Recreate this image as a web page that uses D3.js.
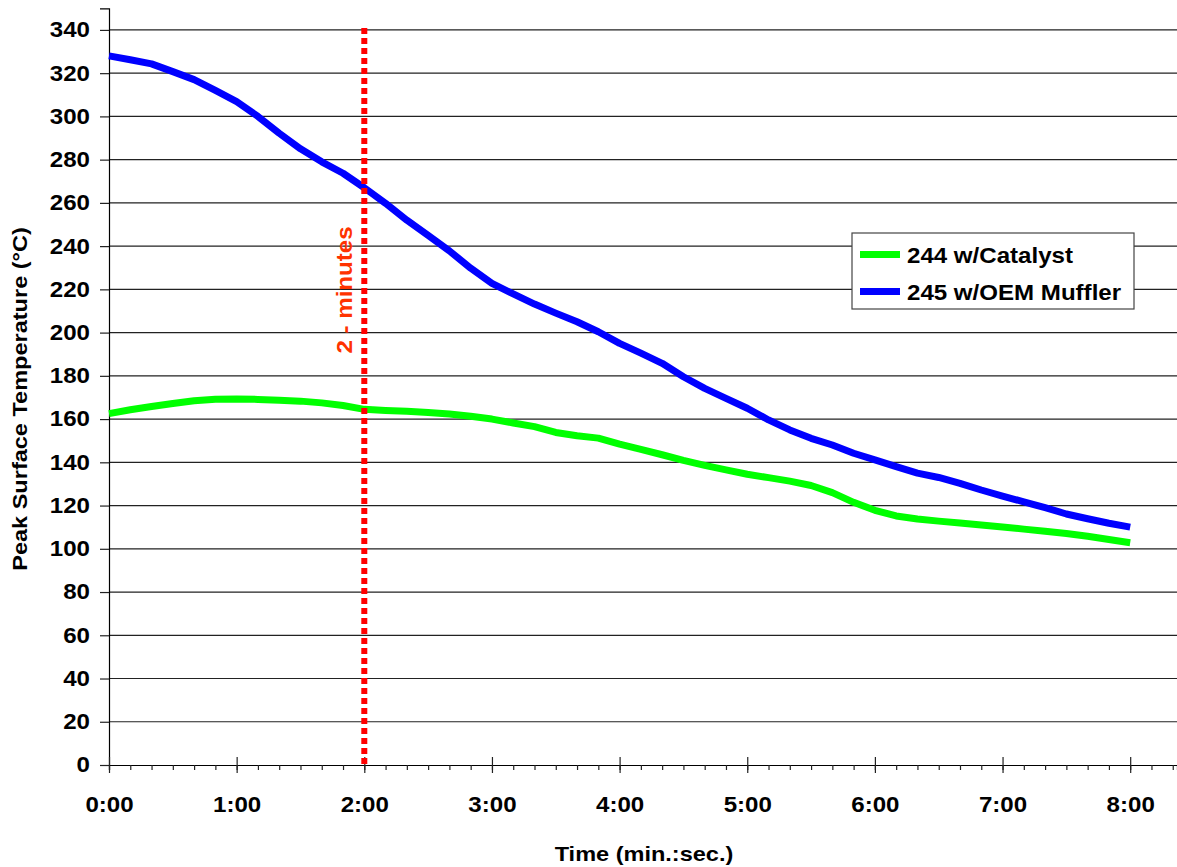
<!DOCTYPE html>
<html>
<head>
<meta charset="utf-8">
<script src="https://cdn.jsdelivr.net/npm/d3@7"></script>
<style>
  html, body { margin: 0; padding: 0; background: #fff; }
  svg { display: block; font-family: "Liberation Sans", Arial, sans-serif; font-weight: bold; }
</style>
</head>
<body>
<svg id="chart" width="1177" height="867"></svg>
<script>
// Sample times, seconds from start (every 10 s)
const timeSec = d3.range(0, 481, 10);

// Peak surface temperature, °C
const catalyst = [
  162.5, 164.3, 165.8, 167.2, 168.5, 169.2, 169.3, 169.1, 168.7, 168.3,
  167.5, 166.3, 164.5, 164.0, 163.6, 163.0, 162.3, 161.3, 160.0, 158.2,
  156.5, 153.8, 152.3, 151.2, 148.4, 146.0, 143.5, 140.9, 138.6, 136.5,
  134.5, 132.9, 131.3, 129.3, 126.0, 121.5, 117.8, 115.2, 113.8, 112.8,
  111.9, 111.0, 110.1, 109.1, 108.1, 107.1, 105.8, 104.3, 102.8
];
const oemMuffler = [
  328.0, 326.2, 324.3, 320.7, 317.0, 312.0, 306.8, 300.0, 292.2, 285.0,
  279.0, 273.7, 267.0, 259.8, 252.0, 245.0, 237.8, 229.8, 222.8, 217.9,
  213.2, 209.0, 205.0, 200.4, 195.0, 190.5, 185.8, 179.6, 174.2, 169.6,
  165.0, 159.6, 155.0, 151.1, 148.0, 144.2, 141.1, 138.0, 135.0, 133.0,
  130.3, 127.2, 124.4, 121.7, 119.0, 116.1, 113.9, 111.8, 110.0
];

const seriesNames = ["244 w/Catalyst", "245 w/OEM Muffler"];
const seriesColors = ["#00ff00", "#0000ff"];

const yTicks = d3.range(0, 341, 20);
const xMajorTicks = d3.range(0, 481, 60);
const xMinorTicks = d3.range(0, 501, 10);
const markerTime = 120;
const markerLabel = "2 - minutes";

const FONT = "Liberation Sans, Arial, sans-serif";
const svg = d3.select("#chart");

const x = d3.scaleLinear().domain([0, 502]).range([109, 1177]);
const y = d3.scaleLinear().domain([0, 350]).range([765, 8.3]);

const fmtTime = s => `${Math.floor(s / 60)}:${String(s % 60).padStart(2, "0")}`;

// horizontal grid lines
svg.append("g")
  .selectAll("line")
  .data(yTicks.filter(v => v > 0))
  .join("line")
  .attr("x1", x(0)).attr("x2", 1177)
  .attr("y1", d => y(d)).attr("y2", d => y(d))
  .attr("stroke", "#222").attr("stroke-width", 1.2);

// y axis
const yAxis = d3.axisLeft(y).tickValues(yTicks).tickSize(9).tickPadding(10).tickFormat(d3.format("d"));
const gy = svg.append("g").attr("transform", `translate(${x(0)},0)`).call(yAxis);
gy.select(".domain").attr("stroke", "#000").attr("stroke-width", 1.2);
gy.selectAll(".tick line").attr("stroke", "#222").attr("stroke-width", 1.2);
gy.selectAll(".tick text").attr("font-size", 21.5).attr("font-weight", "bold")
  .attr("font-family", FONT).attr("fill", "#000").classed("wide", true);

// x axis: minor ticks every 10 s, major every minute
const gxMinor = svg.append("g").attr("transform", `translate(0,${y(0)})`)
  .call(d3.axisBottom(x).tickValues(xMinorTicks).tickSize(5).tickFormat(""));
gxMinor.select(".domain").attr("stroke", "#000").attr("stroke-width", 1.2);
gxMinor.selectAll(".tick line").attr("stroke", "#222").attr("stroke-width", 1.2);

const gxMajor = svg.append("g").attr("transform", `translate(0,${y(0)})`)
  .call(d3.axisBottom(x).tickValues(xMajorTicks).tickSize(8).tickPadding(24).tickFormat(fmtTime));
gxMajor.select(".domain").remove();
gxMajor.selectAll(".tick line").attr("y1", -8).attr("stroke", "#222").attr("stroke-width", 1.2);
gxMajor.selectAll(".tick text").attr("font-size", 21.5).attr("font-weight", "bold")
  .attr("font-family", FONT).attr("fill", "#000").classed("wide", true);

// data lines
const line = d3.line().x((d, i) => x(timeSec[i])).y(d => y(d));
[catalyst, oemMuffler].forEach((vals, k) => {
  svg.append("path")
    .datum(vals)
    .attr("d", line)
    .attr("fill", "none")
    .attr("stroke", seriesColors[k])
    .attr("stroke-width", 7)
    .attr("stroke-linejoin", "round");
});

// two-minute marker
svg.append("line")
  .attr("x1", x(markerTime)).attr("x2", x(markerTime))
  .attr("y1", y(340) - 2).attr("y2", y(0))
  .attr("stroke", "#ff0000").attr("stroke-width", 6)
  .attr("stroke-dasharray", "6,4");

svg.append("text")
  .attr("class", "wide")
  .attr("transform", `translate(${x(markerTime) - 12},290) rotate(-90)`)
  .attr("text-anchor", "middle")
  .attr("font-size", 21.5)
  .attr("fill", "#ff3300")
  .text(markerLabel);

// legend
const legend = svg.append("g");
legend.append("rect")
  .attr("x", 852).attr("y", 233).attr("width", 282).attr("height", 76)
  .attr("fill", "#fff").attr("stroke", "#444").attr("stroke-width", 1.2);
seriesNames.forEach((name, k) => {
  const cy = 254.5 + k * 37;
  legend.append("line")
    .attr("x1", 860).attr("x2", 900).attr("y1", cy).attr("y2", cy)
    .attr("stroke", seriesColors[k]).attr("stroke-width", 7);
  legend.append("text")
    .attr("class", "wide")
    .attr("x", 907).attr("y", cy + 8)
    .attr("font-size", 21.5).attr("fill", "#000")
    .text(name);
});

// axis titles
svg.append("text")
  .attr("class", "wide")
  .attr("x", 644).attr("y", 861)
  .attr("text-anchor", "middle").attr("font-size", 21)
  .text("Time (min.:sec.)");

svg.append("text")
  .attr("class", "wide")
  .attr("transform", "translate(27,399) rotate(-90)")
  .attr("text-anchor", "middle").attr("font-size", 21)
  .text("Peak Surface Temperature (°C)");

// the lettering is set slightly wider than the font's natural advance
svg.selectAll("text.wide").each(function () {
  const len = this.getComputedTextLength();
  d3.select(this).attr("textLength", len * 1.12).attr("lengthAdjust", "spacingAndGlyphs");
});
</script>
</body>
</html>
